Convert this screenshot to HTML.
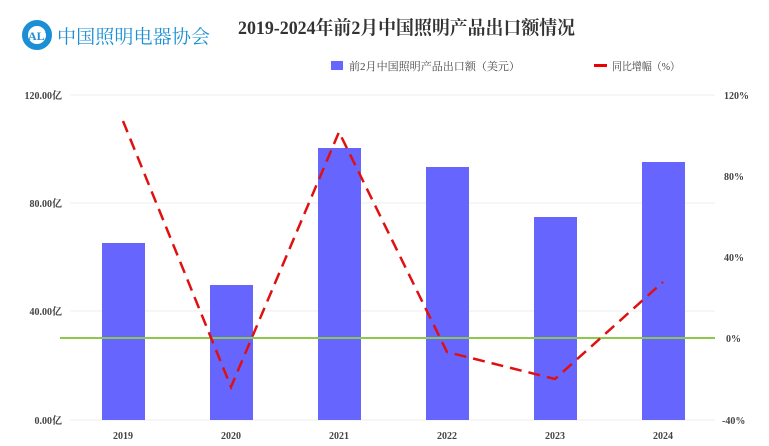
<!DOCTYPE html><html><head><meta charset="utf-8"><style>body{margin:0;background:#fff}svg{display:block}text{font-family:"Liberation Serif","Noto Serif CJK SC",serif}</style></head><body>
<svg width="769" height="446" xmlns="http://www.w3.org/2000/svg">
<circle cx="37" cy="35" r="12" fill="none" stroke="#1a8fd6" stroke-width="6"/>
<text x="28" y="40" font-size="12" font-weight="bold" fill="#1a8fd6" font-family="Liberation Sans,sans-serif">ALI</text>
<text x="57" y="43" font-size="19" fill="#1a8fd6" textLength="153" lengthAdjust="spacingAndGlyphs" font-family="Noto Serif CJK SC,serif">中国照明电器协会</text>
<text x="238" y="34" font-size="19" font-weight="bold" fill="#333" textLength="337" lengthAdjust="spacingAndGlyphs">2019-2024年前2月中国照明产品出口额情况</text>
<rect x="331" y="61" width="12" height="9" fill="#6666ff"/>
<text x="349" y="70" font-size="11" fill="#444" textLength="171" lengthAdjust="spacingAndGlyphs">前2月中国照明产品出口额（美元）</text>
<rect x="594" y="64" width="13" height="3" fill="#e00"/>
<text x="612" y="70" font-size="11" fill="#444" textLength="68" lengthAdjust="spacingAndGlyphs">同比增幅（%）</text>
<g stroke="#eee" stroke-width="1"><line x1="70" y1="95" x2="715" y2="95"/><line x1="70" y1="203" x2="715" y2="203"/><line x1="70" y1="311" x2="715" y2="311"/><line x1="70" y1="420" x2="715" y2="420"/></g>
<g font-size="10" font-weight="bold" fill="#444" text-anchor="end"><text x="62" y="99">120.00亿</text><text x="62" y="207">80.00亿</text><text x="62" y="315">40.00亿</text><text x="62" y="424">0.00亿</text></g>
<g font-size="10" font-weight="bold" fill="#444"><text x="724" y="99">120%</text><text x="724" y="180">80%</text><text x="724" y="261">40%</text><text x="726" y="342">0%</text><text x="722" y="424">-40%</text></g>
<g fill="#6666ff"><rect x="102" y="243" width="43" height="177"/><rect x="210" y="285" width="43" height="135"/><rect x="318" y="148" width="43" height="272"/><rect x="426" y="167" width="43" height="253"/><rect x="534" y="217" width="43" height="203"/><rect x="642" y="162" width="43" height="258"/></g>
<line x1="60" y1="338" x2="715" y2="338" stroke="#8cc84b" stroke-width="2"/>
<polyline points="123,121 231,387 339,132 447,352 555,379 663,282" fill="none" stroke="#e01010" stroke-width="2.5" stroke-dasharray="12,7"/>
<g font-size="10" font-weight="bold" fill="#444" text-anchor="middle"><text x="123" y="439">2019</text><text x="231" y="439">2020</text><text x="339" y="439">2021</text><text x="447" y="439">2022</text><text x="555" y="439">2023</text><text x="663" y="439">2024</text></g>
</svg></body></html>
